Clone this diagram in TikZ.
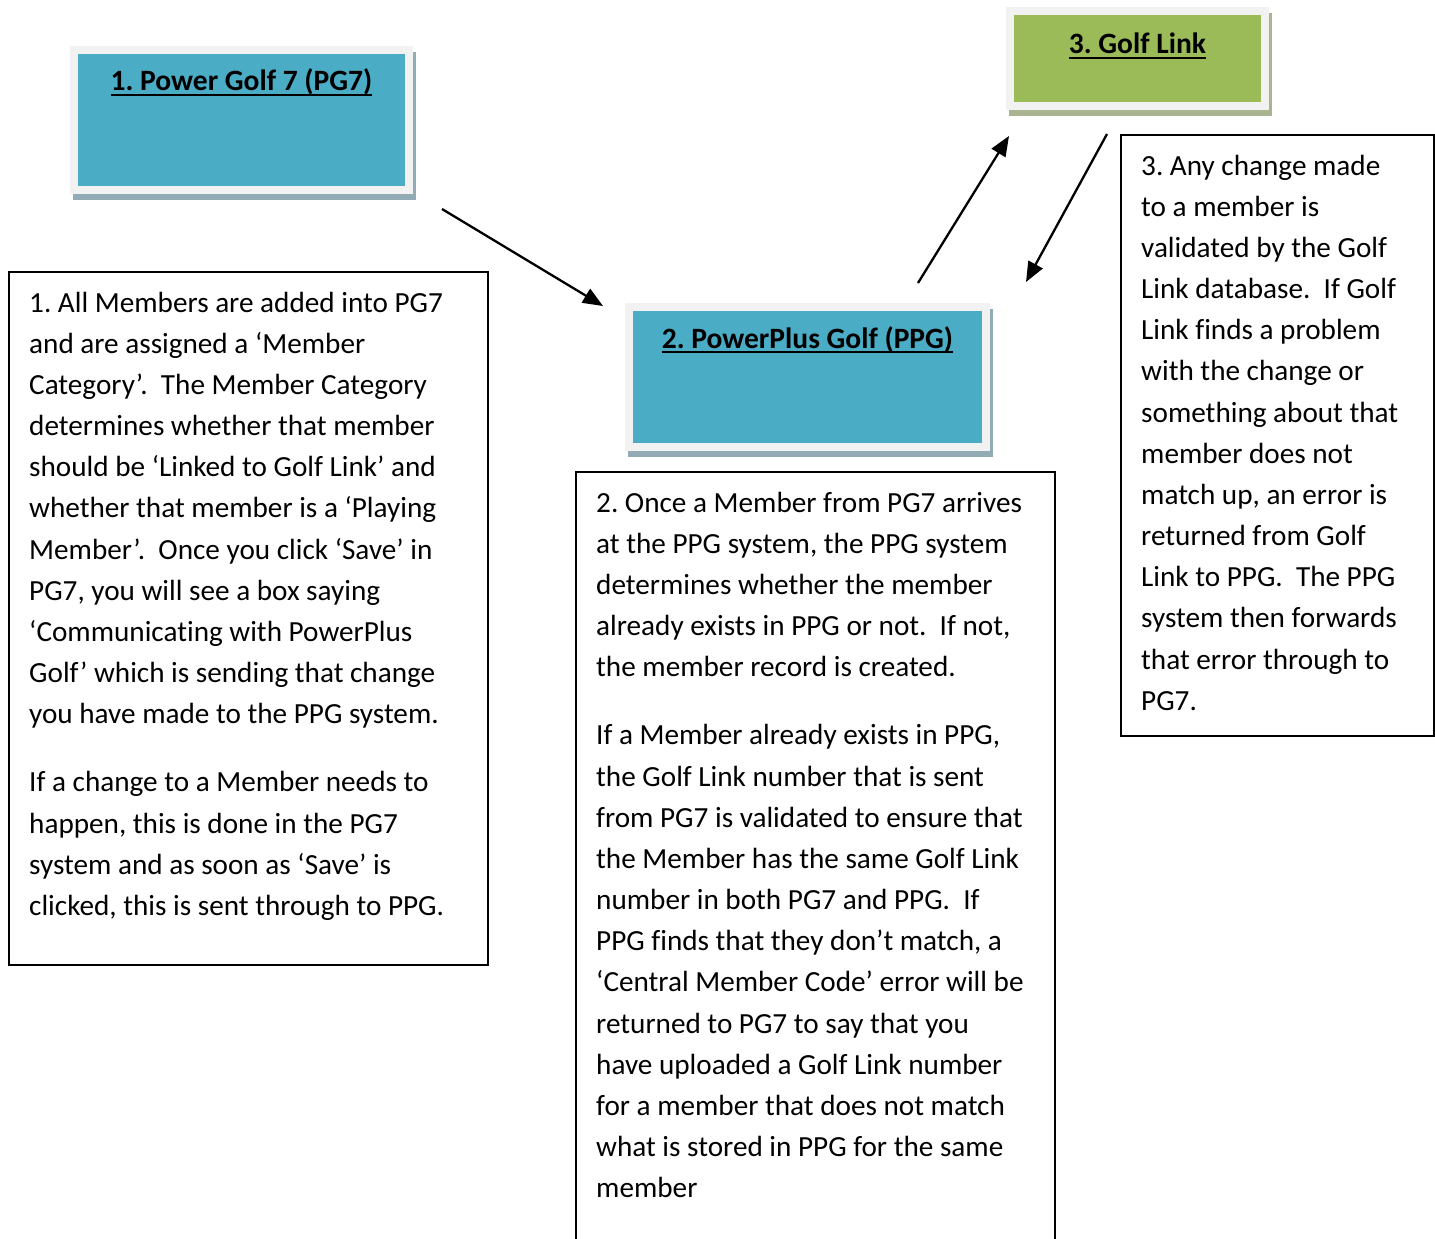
\documentclass[tikz,border=0pt]{standalone}
\usepackage{fontspec}
\setmainfont{Carlito}[Ligatures=CommonOff]
\usepackage{tikz}
\usetikzlibrary{arrows.meta}
\definecolor{pgblue}{HTML}{4BACC6}
\definecolor{glgreen}{HTML}{9BBB59}
\definecolor{framegrey}{HTML}{F2F2F2}
\definecolor{blueshade}{HTML}{93ABB5}
\definecolor{greenshade}{HTML}{A8B590}
\newsavebox{\ulsave}
\newcommand{\ultext}[1]{\sbox{\ulsave}{#1}\rlap{\rule[-5.2pt]{\wd\ulsave}{2.2pt}}\usebox{\ulsave}}
\newcommand{\firstln}{\rule{0pt}{30pt}}
\frenchspacing

\begin{document}
\begin{tikzpicture}[x=1pt,y=-1pt,
  sysbox/.style={draw=framegrey,line width=8pt,inner sep=0pt,outer sep=0pt,
    preaction={fill=#1,draw=#1,transform canvas={shift={(3pt,-6pt)}}}},
  systitle/.style={anchor=base,inner sep=0pt,font=\fontsize{29.5}{35}\selectfont\bfseries},
  textbox/.style={draw,line width=2pt,inner sep=0pt,outer sep=0pt,anchor=north west},
  boxtext/.style={anchor=north west,inner sep=0pt,align=left,font=\fontsize{29.2}{41.15}\selectfont},
  link/.style={line width=2.3pt,-{Triangle[length=20pt,width=16pt]}}]
  \useasboundingbox (0,0) rectangle (1435,1239);

  \node[sysbox=blueshade,fill=pgblue,minimum width=335,minimum height=140] (pg7) at (241.5,120) {};
  \node[systitle] (pg7t) at ([yshift=-41pt]pg7.north) {\ultext{1. Power Golf 7 (PG7)}};
  \node[sysbox=blueshade,fill=pgblue,minimum width=357,minimum height=140] (ppg) at (807.5,377) {};
  \node[systitle] (ppgt) at ([yshift=-41pt]ppg.north) {\ultext{2. PowerPlus Golf (PPG)}};
  \node[sysbox=greenshade,fill=glgreen,minimum width=255,minimum height=95] (gl) at (1137.5,58.5) {};
  \node[systitle] (glt) at ([yshift=-43pt]gl.north) {\ultext{3. Golf Link}};

  \node[textbox,minimum width=479,minimum height=693] (pg7note) at (9,272) {};
  \node[boxtext] (pg7txt) at ([shift={(20pt,-10pt)}]pg7note.north west) {\firstln 1. All Members are added into PG7\\
    and are assigned a ‘Member\\
    Category’.\ \ The Member Category\\
    determines whether that member\\
    should be ‘Linked to Golf Link’ and\\
    whether that member is a ‘Playing\\
    Member’.\ \ Once you click ‘Save’ in\\
    PG7, you will see a box saying\\
    ‘Communicating with PowerPlus\\
    Golf’ which is sending that change\\
    you have made to the PPG system.\\[27pt]
    If a change to a Member needs to\\
    happen, this is done in the PG7\\
    system and as soon as ‘Save’ is\\
    clicked, this is sent through to PPG.};

  \node[textbox,minimum width=479,minimum height=800] (ppgnote) at (576,472) {};
  \node[boxtext] (ppgtxt) at ([shift={(20pt,-10pt)}]ppgnote.north west) {\firstln 2. Once a Member from PG7 arrives\\
    at the PPG system, the PPG system\\
    determines whether the member\\
    already exists in PPG or not.\ \ If not,\\
    the member record is created.\\[27pt]
    If a Member already exists in PPG,\\
    the Golf Link number that is sent\\
    from PG7 is validated to ensure that\\
    the Member has the same Golf Link\\
    number in both PG7 and PPG.\ \ If\\
    PPG finds that they don’t match, a\\
    ‘Central Member Code’ error will be\\
    returned to PG7 to say that you\\
    have uploaded a Golf Link number\\
    for a member that does not match\\
    what is stored in PPG for the same\\
    member};

  \node[textbox,minimum width=313,minimum height=601] (glnote) at (1121,135) {};
  \node[boxtext] (gltxt) at ([shift={(20pt,-10pt)}]glnote.north west) {\firstln 3. Any change made\\
    to a member is\\
    validated by the Golf\\
    Link database.\ \ If Golf\\
    Link finds a problem\\
    with the change or\\
    something about that\\
    member does not\\
    match up, an error is\\
    returned from Golf\\
    Link to PPG.\ \ The PPG\\
    system then forwards\\
    that error through to\\
    PG7.};

  \coordinate (toppg) at (442,209); \coordinate (atppg) at (603,306);
  \coordinate (upgl) at (918,283); \coordinate (atgl) at (1009,136);
  \coordinate (fromgl) at (1107,134); \coordinate (backppg) at (1026,282);
  \draw[link] (toppg) -- (atppg);
  \draw[link] (upgl) -- (atgl);
  \draw[link] (fromgl) -- (backppg);
\end{tikzpicture}
\end{document}
